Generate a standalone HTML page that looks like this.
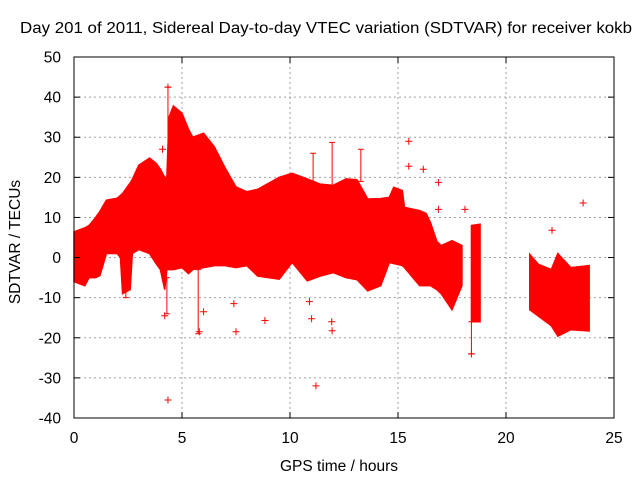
<!DOCTYPE html>
<html><head><meta charset="utf-8"><style>
body{margin:0;background:#fff;font-family:"Liberation Sans",sans-serif}
svg text{font-family:"Liberation Sans",sans-serif;font-size:15.5px;fill:#000}
</style></head><body>
<svg id="c" width="640" height="480" xmlns="http://www.w3.org/2000/svg">
<text x="20" y="33" textLength="612" lengthAdjust="spacingAndGlyphs">Day 201 of 2011, Sidereal Day-to-day VTEC variation (SDTVAR) for receiver kokb</text>
<text x="339" y="471" text-anchor="middle">GPS time / hours</text>
<text transform="translate(20,242) rotate(-90)" text-anchor="middle">SDTVAR / TECUs</text>
<g id="grid"></g><g id="marks"></g><g id="ticks"></g>
<rect x="74" y="57" width="540" height="361" fill="none" stroke="#000" stroke-width="1"/>
</svg>
<script>
const xTicks=[0,5,10,15,20,25];
const yTicks=[-40,-30,-20,-10,0,10,20,30,40,50];
const segA_t=[0,0.5,0.7,1,1.2,1.5,2,2.15,2.25,2.6,2.7,3,3.5,3.8,4,4.2,4.3,4.4,4.6,5,5.3,5.5,6,6.5,7,7.5,8,8.5,9.5,10.1,10.8,11.4,12,12.6,13.1,13.6,14.2,14.6,14.8,15.2,15.3,16,16.3,16.5,16.8,17,17.5,17.96];
const segA_hi=[6.4,7.4,8,10,11.5,14.3,14.8,15.5,16,18.6,19.5,23,24.8,23.5,22,20,20,35,37.8,36,32,30,31,27.6,22.3,17.6,16.4,17,20,21,19.6,18.3,18,19.6,19.4,14.6,14.7,15,17.5,16.7,12.5,11.7,11,8.75,4,3,4.2,3];
const segA_lo=[-6,-7,-5,-5,-4.5,1,1,0,-9,-8,1,2,1,-1.5,-3,-8,-3,-3,-3,-2.5,-4,-3,-2.5,-2,-2,-2.5,-2,-4.6,-5.4,-1.2,-5.8,-4.6,-3.75,-5,-5.5,-8.3,-7,-1.25,-1.5,-2,-2.5,-7,-7,-7,-8,-9,-13,-7];
const segB_t=[18.4,18.8];
const segB_hi=[8,8.3];
const segB_lo=[-16,-16];
const segC_t=[21.1,21.5,22.1,22.4,23,23.85];
const segC_hi=[0.8,-1.7,-3,1,-2.5,-2];
const segC_lo=[-13,-14.6,-17,-19.6,-18,-18.3];
const spikeT=[4.35,11.07,11.95,13.28,5.75,18.4,2.4,4.3];
const spikeHi=[42.5,26,28.7,27,-3,-16,-5,-5];
const spikeLo=[20,18,18,19,-19,-24,-10,-14];
const outT=[4.2,4.35,4.35,4.1,5.8,6,7.4,7.5,8.84,10.9,11.0,11.2,11.93,11.95,15.5,15.5,16.17,16.87,16.87,18.1,18.4,22.13,23.57];
const outV=[-14.5,-35.5,42.5,27,-18.5,-13.5,-11.5,-18.5,-15.7,-11,-15.25,-32,-16,-18.25,29,22.75,22,18.75,12,12,-24,6.8,13.6];
const X=t=>74+t*21.6, Y=v=>57+(50-v)*361/90;
const ns="http://www.w3.org/2000/svg";
function mk(tag,attrs,parent){const e=document.createElementNS(ns,tag);for(const k in attrs)e.setAttribute(k,attrs[k]);document.getElementById(parent).appendChild(e);return e;}
xTicks.forEach(t=>{
 if(t>0&&t<25){const g=mk('line',{x1:X(t),x2:X(t),y1:57,y2:418,stroke:'#a0a0a0','stroke-dasharray':'2,3'},'grid');
 
 }
 mk('line',{x1:X(t),x2:X(t),y1:418,y2:412,stroke:'#000'},'ticks');
 mk('line',{x1:X(t),x2:X(t),y1:57,y2:63,stroke:'#000'},'ticks');
 const l=mk('text',{x:X(t),y:443,'text-anchor':'middle'},'ticks');l.textContent=t;
 
 
});
yTicks.forEach(v=>{
 if(v>-40&&v<50){const g=mk('line',{x1:74,x2:614,y1:Y(v),y2:Y(v),stroke:'#a0a0a0','stroke-dasharray':'2,3'},'grid');
 
 }
 mk('line',{x1:74,x2:80,y1:Y(v),y2:Y(v),stroke:'#000'},'ticks');
 mk('line',{x1:614,x2:608,y1:Y(v),y2:Y(v),stroke:'#000'},'ticks');
 const l=mk('text',{x:61,y:Y(v)+5.5,'text-anchor':'end'},'ticks');l.textContent=v;
 
 
});
function band(ts,hi,lo,name){
 const pts=ts.map((t,i)=>X(t)+','+Y(hi[i])).concat(ts.map((t,i)=>X(t)+','+Y(lo[i])).reverse());
 const p=mk('polygon',{points:pts.join(' '),fill:'#ff0000',stroke:'#ff0000','stroke-width':1.5},'marks');
 
 
}
band(segA_t,segA_hi,segA_lo,'sdtvar-band-main');
band(segB_t,segB_hi,segB_lo,'sdtvar-band-18h');
band(segC_t,segC_hi,segC_lo,'sdtvar-band-late');
spikeT.forEach((t,i)=>{
 const x=X(t);
 const p=mk('path',{d:`M${x},${Y(spikeHi[i])}V${Y(spikeLo[i])}M${x-3},${Y(spikeHi[i])}H${x+3}M${x-3},${Y(spikeLo[i])}H${x+3}`,stroke:'#ff0000','stroke-width':1},'marks');
 
 
});
outT.forEach((t,i)=>{
 const x=X(t),y=Y(outV[i]);
 const p=mk('path',{d:`M${x-3.5},${y}H${x+3.5}M${x},${y-3.5}V${y+3.5}`,stroke:'#ff0000','stroke-width':1},'marks');
 
 
});
</script>
</body></html>
